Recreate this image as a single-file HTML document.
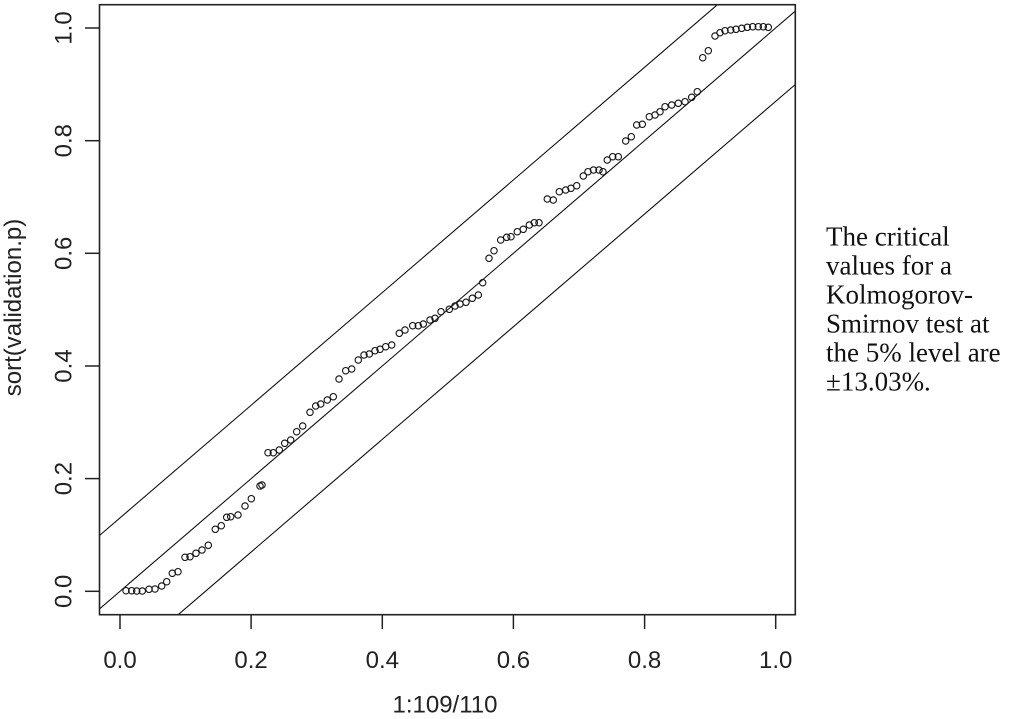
<!DOCTYPE html>
<html><head><meta charset="utf-8"><style>
html,body{margin:0;padding:0;background:#fff;width:1009px;height:719px;overflow:hidden;}
svg{display:block;}
</style></head><body>
<svg width="1009" height="719" viewBox="0 0 1009 719" xmlns="http://www.w3.org/2000/svg">
<rect x="0" y="0" width="1009" height="719" fill="#fff"/>
<g stroke="#111" stroke-width="1.1" fill="none">
<line x1="99.5" y1="608.9" x2="795.3" y2="11.1"/>
<line x1="99.5" y1="535.5" x2="717.4" y2="4.7"/>
<line x1="178.2" y1="614.7" x2="795.3" y2="84.5"/>
</g>
<rect x="99.5" y="4.7" width="695.8" height="610" fill="none" stroke="#222" stroke-width="1.6"/>
<g stroke="#222" stroke-width="1.5">
<line x1="120" y1="614.7" x2="120" y2="629"/>
<line x1="251.1" y1="614.7" x2="251.1" y2="629"/>
<line x1="382.3" y1="614.7" x2="382.3" y2="629"/>
<line x1="513.4" y1="614.7" x2="513.4" y2="629"/>
<line x1="644.6" y1="614.7" x2="644.6" y2="629"/>
<line x1="775.7" y1="614.7" x2="775.7" y2="629"/>
<line x1="85" y1="591.3" x2="99.5" y2="591.3"/>
<line x1="85" y1="478.6" x2="99.5" y2="478.6"/>
<line x1="85" y1="366" x2="99.5" y2="366"/>
<line x1="85" y1="253.3" x2="99.5" y2="253.3"/>
<line x1="85" y1="140.7" x2="99.5" y2="140.7"/>
<line x1="85" y1="28" x2="99.5" y2="28"/>
</g>
<g font-family="Liberation Sans, Arial, sans-serif" font-size="24" fill="#222" text-anchor="middle">
<text x="120" y="668">0.0</text>
<text x="251.1" y="668">0.2</text>
<text x="382.3" y="668">0.4</text>
<text x="513.4" y="668">0.6</text>
<text x="644.6" y="668">0.8</text>
<text x="775.7" y="668">1.0</text>
<text transform="translate(71.5,591.3) rotate(-90)">0.0</text>
<text transform="translate(71.5,478.6) rotate(-90)">0.2</text>
<text transform="translate(71.5,366) rotate(-90)">0.4</text>
<text transform="translate(71.5,253.3) rotate(-90)">0.6</text>
<text transform="translate(71.5,140.7) rotate(-90)">0.8</text>
<text transform="translate(71.5,28) rotate(-90)">1.0</text>
<text x="445" y="712.5">1:109/110</text>
<text transform="translate(21,307.5) rotate(-90)">sort(validation.p)</text>
</g>
<g font-family="Liberation Serif, Times New Roman, serif" font-size="27" fill="#111">
<text x="826" y="245.5">The critical</text>
<text x="826" y="274.5">values for a</text>
<text x="826" y="303.5">Kolmogorov-</text>
<text x="826" y="332.5">Smirnov test at</text>
<text x="826" y="361.5">the 5% level are</text>
<text x="826" y="390.5">±13.03%.</text>
</g>
<g fill="none" stroke="#111" stroke-width="1.1">
<circle cx="126" cy="590.7" r="3.2"/><circle cx="131.7" cy="590.7" r="3.2"/><circle cx="136.7" cy="591" r="3.2"/><circle cx="142.3" cy="591" r="3.2"/><circle cx="149" cy="589.3" r="3.2"/><circle cx="155" cy="589" r="3.2"/><circle cx="161.7" cy="586" r="3.2"/><circle cx="166.7" cy="581.7" r="3.2"/><circle cx="172.3" cy="573.3" r="3.2"/><circle cx="178" cy="571.7" r="3.2"/><circle cx="185" cy="557.3" r="3.2"/><circle cx="190" cy="556.7" r="3.2"/><circle cx="196" cy="553.3" r="3.2"/><circle cx="202" cy="550" r="3.2"/><circle cx="208.3" cy="545.3" r="3.2"/><circle cx="215.3" cy="529.3" r="3.2"/><circle cx="221.3" cy="525.7" r="3.2"/><circle cx="226.7" cy="517.3" r="3.2"/><circle cx="230.7" cy="516.7" r="3.2"/><circle cx="238" cy="515" r="3.2"/><circle cx="245" cy="506" r="3.2"/><circle cx="251.3" cy="498.7" r="3.2"/><circle cx="260" cy="486" r="3.2"/><circle cx="262" cy="485" r="3.2"/><circle cx="268" cy="452.7" r="3.2"/><circle cx="273.3" cy="452.7" r="3.2"/><circle cx="279.3" cy="450" r="3.2"/><circle cx="284.7" cy="443.3" r="3.2"/>
<circle cx="290.7" cy="440" r="3.2"/><circle cx="296.7" cy="431.7" r="3.2"/><circle cx="302.7" cy="426" r="3.2"/><circle cx="310" cy="412.3" r="3.2"/><circle cx="315.7" cy="406" r="3.2"/><circle cx="320.7" cy="404" r="3.2"/><circle cx="327.3" cy="400" r="3.2"/><circle cx="333.3" cy="396.7" r="3.2"/><circle cx="339" cy="379" r="3.2"/><circle cx="345.7" cy="370.7" r="3.2"/><circle cx="351.7" cy="369" r="3.2"/><circle cx="358.3" cy="360" r="3.2"/><circle cx="364" cy="355" r="3.2"/><circle cx="369.3" cy="354" r="3.2"/><circle cx="375" cy="350.7" r="3.2"/><circle cx="380" cy="349.3" r="3.2"/><circle cx="385.7" cy="346.7" r="3.2"/><circle cx="391.7" cy="345" r="3.2"/><circle cx="399.3" cy="333.3" r="3.2"/><circle cx="405" cy="330" r="3.2"/><circle cx="412.7" cy="325.7" r="3.2"/><circle cx="418.3" cy="325.7" r="3.2"/><circle cx="423.3" cy="324" r="3.2"/><circle cx="430" cy="320" r="3.2"/><circle cx="435" cy="318.3" r="3.2"/><circle cx="441" cy="311.7" r="3.2"/>
<circle cx="449.3" cy="309.3" r="3.2"/><circle cx="455" cy="306" r="3.2"/><circle cx="460" cy="304" r="3.2"/><circle cx="466" cy="302.3" r="3.2"/><circle cx="472.3" cy="298.3" r="3.2"/><circle cx="478.3" cy="295" r="3.2"/><circle cx="482.7" cy="282.7" r="3.2"/><circle cx="489" cy="258.3" r="3.2"/><circle cx="494" cy="250.7" r="3.2"/><circle cx="500.7" cy="240" r="3.2"/><circle cx="506.7" cy="237.3" r="3.2"/><circle cx="511" cy="236.7" r="3.2"/><circle cx="517.3" cy="231.7" r="3.2"/><circle cx="523.3" cy="229.3" r="3.2"/><circle cx="529.3" cy="225" r="3.2"/><circle cx="534.3" cy="222.7" r="3.2"/><circle cx="539" cy="222.7" r="3.2"/><circle cx="547.3" cy="199" r="3.2"/><circle cx="553.3" cy="200" r="3.2"/><circle cx="559.3" cy="191.7" r="3.2"/><circle cx="565.7" cy="190" r="3.2"/><circle cx="571" cy="188.3" r="3.2"/><circle cx="576.7" cy="185.7" r="3.2"/>
<circle cx="583.3" cy="176" r="3.2"/><circle cx="588" cy="171.7" r="3.2"/><circle cx="593.5" cy="170" r="3.2"/><circle cx="599" cy="170" r="3.2"/><circle cx="603" cy="171.7" r="3.2"/><circle cx="607.3" cy="160" r="3.2"/><circle cx="612.7" cy="156.7" r="3.2"/><circle cx="618.3" cy="156.7" r="3.2"/><circle cx="625.7" cy="141" r="3.2"/><circle cx="631.3" cy="136.7" r="3.2"/><circle cx="636.7" cy="125" r="3.2"/><circle cx="642.3" cy="124.3" r="3.2"/><circle cx="649.3" cy="116.7" r="3.2"/><circle cx="655" cy="115" r="3.2"/><circle cx="660" cy="111.7" r="3.2"/>
<circle cx="665" cy="106.7" r="3.2"/><circle cx="671.7" cy="105" r="3.2"/><circle cx="678.3" cy="103.3" r="3.2"/><circle cx="685" cy="101.7" r="3.2"/><circle cx="691.7" cy="97.3" r="3.2"/><circle cx="697.3" cy="91.7" r="3.2"/><circle cx="702.7" cy="57.7" r="3.2"/><circle cx="708.3" cy="50.7" r="3.2"/><circle cx="715" cy="36" r="3.2"/><circle cx="720" cy="32.7" r="3.2"/><circle cx="725" cy="30.7" r="3.2"/><circle cx="730.7" cy="30" r="3.2"/><circle cx="736" cy="29.3" r="3.2"/><circle cx="741.7" cy="28.3" r="3.2"/><circle cx="747.3" cy="27.3" r="3.2"/><circle cx="752.7" cy="26.7" r="3.2"/><circle cx="758.3" cy="26.7" r="3.2"/><circle cx="763.3" cy="26.7" r="3.2"/><circle cx="768.3" cy="27.3" r="3.2"/>
</g>
</svg>
</body></html>
